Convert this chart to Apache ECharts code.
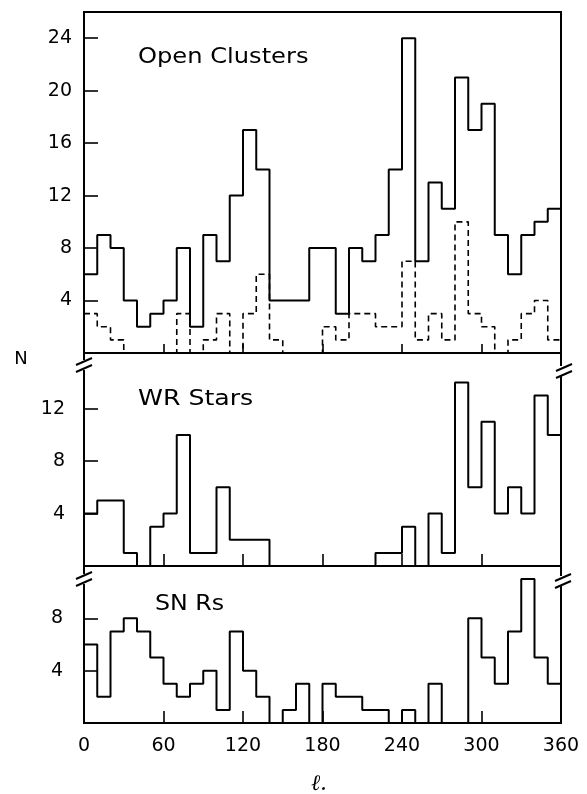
<!DOCTYPE html>
<html><head><meta charset="utf-8">
<script src="https://cdn.jsdelivr.net/npm/echarts@6/dist/echarts.min.js"></script>
<style>html,body{margin:0;padding:0;background:#fff}#c{width:587px;height:794px}</style>
</head><body><div id="c"></div>
<script>
// Galactic longitude bins (10 degree wide), bin starts
const lonBinStarts = [0,10,20,30,40,50,60,70,80,90,100,110,120,130,140,150,160,170,180,190,200,210,220,230,240,250,260,270,280,290,300,310,320,330,340,350];
const lonEnd = 360;
// Open clusters: all (solid) and young subset (dashed)
const openClustersAll   = [6,9,8,4,2,3,4,8,2,9,7,12,17,14,4,4,4,8,8,3,8,7,9,14,24,7,13,11,21,17,19,9,6,9,10,11];
const openClustersYoung = [3,2,1,0,0,0,0,3,0,1,3,0,3,6,1,0,0,0,2,1,3,3,2,2,7,1,3,1,10,3,2,0,1,3,4,1];
// Wolf-Rayet stars
const wrStars = [4,5,5,1,0,3,4,10,1,1,6,2,2,2,0,0,0,0,0,0,0,0,1,1,3,0,4,1,14,6,11,4,6,4,13,10];
// Supernova remnants
const snrs = [6,2,7,8,7,5,3,2,3,4,1,7,4,2,0,1,3,0,3,2,2,1,1,0,1,0,3,0,0,8,5,3,7,11,5,3];
// Tick values / labels
const ocTicks = [4,8,12,16,20,24];
const wrTicks = [4,8,12];
const snrTicks = [4,8];
const lonTicks = [60,120,180,240,300];
const lonLabels = [0,60,120,180,240,300,360];
const panelTitles = ['Open Clusters','WR Stars','SN Rs'];
const yTitle = 'N';
const xTitle = 'ℓ.';

function steps(vals){
  const d = lonBinStarts.map((x,i)=>[x, vals[i]]);
  d.push([lonEnd, vals[vals.length-1]]);
  return d;
}

const L = 84, R = 26, W = 587;
const grids = [
  {top:12, height:341, max:26, ticks:ocTicks, margin:12, tickLen:9},
  {top:353, height:213, max:16.25, ticks:wrTicks, margin:19, tickLen:12},
  {top:566, height:157, max:12, ticks:snrTicks, margin:21, tickLen:12}
];
const FONT = 'DejaVu Sans';
const tickStyle = {color:'#000', width:1.6};

const chart = echarts.init(document.getElementById('c'), null, {renderer:'canvas'});

const option = {
  backgroundColor:'#fff',
  animation:false,
  grid: grids.map(g=>({left:L, right:R, top:g.top, height:g.height, show:true, borderColor:'#000', borderWidth:2, containLabel:false})),
  xAxis: grids.map((g,i)=>({
    type:'value', gridIndex:i, min:0, max:lonEnd,
    axisLine:{show:false}, splitLine:{show:false},
    axisTick:{show:true, inside:true, length:g.tickLen, customValues:lonTicks, lineStyle:tickStyle},
    axisLabel:{show:i===2, customValues:lonLabels, margin:14, color:'#000', fontSize:19, fontFamily:FONT}
  })),
  yAxis: grids.map((g,i)=>({
    type:'value', gridIndex:i, min:0, max:g.max,
    axisLine:{show:false}, splitLine:{show:false},
    axisTick:{show:true, inside:true, length:14, customValues:g.ticks, lineStyle:tickStyle},
    axisLabel:{show:true, customValues:g.ticks, margin:g.margin, color:'#000', fontSize:19, fontFamily:FONT}
  })),
  series: [
    {type:'line', xAxisIndex:0, yAxisIndex:0, step:'end', symbol:'none', data:steps(openClustersAll),
     lineStyle:{color:'#000', width:2}, z:3},
    {type:'line', xAxisIndex:0, yAxisIndex:0, step:'end', symbol:'none', data:steps(openClustersYoung),
     lineStyle:{color:'#000', width:1.6, type:[6,4]}, z:2},
    {type:'line', xAxisIndex:1, yAxisIndex:1, step:'end', symbol:'none', data:steps(wrStars),
     lineStyle:{color:'#000', width:2}},
    {type:'line', xAxisIndex:2, yAxisIndex:2, step:'end', symbol:'none', data:steps(snrs),
     lineStyle:{color:'#000', width:2}}
  ],
  graphic: []
};

// panel titles
const titlePos = [[138,58,1.15],[138,400,1.2],[155,605,1.13]];
panelTitles.forEach((t,i)=>{
  option.graphic.push({type:'text', x:titlePos[i][0], y:titlePos[i][1], scaleX:titlePos[i][2], z:10,
    style:{text:t, font:'21px "DejaVu Sans"', fill:'#000', textVerticalAlign:'middle', textAlign:'left'}});
});
// axis titles
option.graphic.push({type:'text', x:21, y:359, z:10,
  style:{text:yTitle, font:'18px "DejaVu Sans"', fill:'#000', textAlign:'center', textVerticalAlign:'middle'}});
option.graphic.push({type:'text', x:319, y:784, z:10,
  style:{text:xTitle, font:'italic 22px "DejaVu Serif"', fill:'#000', textAlign:'center', textVerticalAlign:'middle'}});

// axis break marks (//) at panel joins
function breakMark(x, y){
  option.graphic.push({type:'line', z:20, shape:{x1:x - (x > 300 ? 3 : 0), y1:y-2, x2:x - (x > 300 ? 3 : 0), y2:y+8}, style:{stroke:'#fff', lineWidth:4}});
  option.graphic.push({type:'line', z:21, shape:{x1:x-8, y1:y+3, x2:x+8, y2:y-4}, style:{stroke:'#000', lineWidth:2}});
  option.graphic.push({type:'line', z:21, shape:{x1:x-8, y1:y+10, x2:x+8, y2:y+3}, style:{stroke:'#000', lineWidth:2}});
}
const xLeft = L, xRight = W - R;
breakMark(xLeft, 362);
breakMark(xRight + 3, 368);
breakMark(xLeft, 576);
breakMark(xRight + 2, 578);

chart.setOption(option);
</script>
</body></html>
